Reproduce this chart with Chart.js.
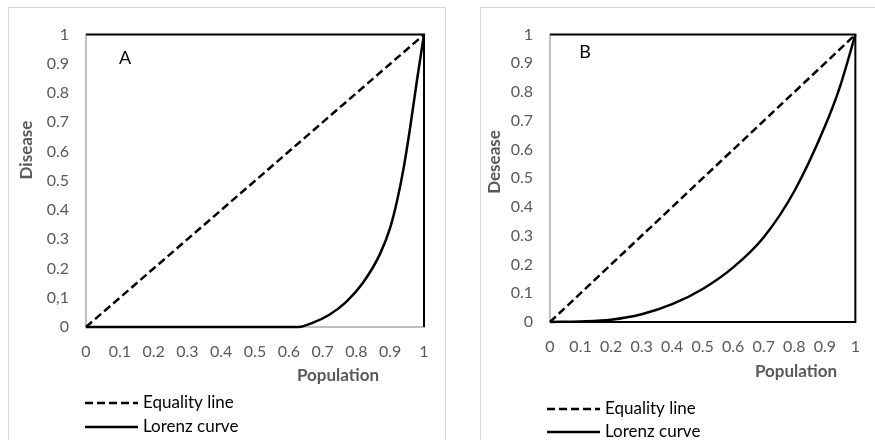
<!DOCTYPE html>
<html>
<head>
<meta charset="utf-8">
<script src="https://cdn.jsdelivr.net/npm/chart.js@4.4.1/dist/chart.umd.min.js"></script>
<style>
  body { margin: 0; background: #fff; width: 875px; height: 440px; overflow: hidden; position: relative; }
  .panel { position: absolute; border: 1px solid #d9d9d9; border-bottom: none; background: #fff; }
  #panelA { left: 8px; top: 7px; width: 436px; height: 440px; }
  #panelB { left: 480px; top: 7px; width: 400px; height: 440px; }
  canvas { position: absolute; left: 0; top: 0; }
</style>
</head>
<body>
<div class="panel" id="panelA"><canvas id="chartA"></canvas></div>
<div class="panel" id="panelB"><canvas id="chartB"></canvas></div>
<script>
// tick labels (A has "0,1" as in the original)
const xTickLabels = ['0', '0.1', '0.2', '0.3', '0.4', '0.5', '0.6', '0.7', '0.8', '0.9', '1'];
const yTickLabelsA = ['0', '0,1', '0.2', '0.3', '0.4', '0.5', '0.6', '0.7', '0.8', '0.9', '1'];
const yTickLabelsB = ['0', '0.1', '0.2', '0.3', '0.4', '0.5', '0.6', '0.7', '0.8', '0.9', '1'];

const seriesNames = ['Equality line', 'Lorenz curve'];

// equality line
const equalX = [0, 1];
const equalY = [0, 1];

// Lorenz curve, panel A
const lorenzAX = [0, 0.1, 0.2, 0.3, 0.4, 0.5, 0.6, 0.63, 0.67, 0.72, 0.77, 0.82, 0.87, 0.9, 0.92, 0.94, 0.96, 0.98, 1];
const lorenzAY = [0, 0, 0, 0, 0, 0, 0, 0, 0.014, 0.042, 0.086, 0.152, 0.25, 0.34, 0.43, 0.545, 0.69, 0.85, 1];

// Lorenz curve, panel B
const lorenzBX = [0, 0.1, 0.2, 0.3, 0.4, 0.5, 0.6, 0.7, 0.8, 0.9, 0.95, 1];
const lorenzBY = [0, 0.002, 0.008, 0.027, 0.062, 0.115, 0.19, 0.295, 0.455, 0.68, 0.82, 1];

// frame lines (top/right, and bottom on B)
const frameAX = [0, 1, 1];
const frameAY = [1, 1, 0];
const frameBX = [0, 1, 1, 0];
const frameBY = [1, 1, 0, 0];

function pts(xs, ys) {
  return xs.map((x, i) => ({ x: x, y: ys[i] }));
}

const FONT = 'Lato, "Open Sans", sans-serif';

// draws the panel letter, axis titles and the two-row legend
const decor = {
  id: 'decor',
  afterDraw(chart, args, o) {
    const ctx = chart.ctx;
    ctx.save();
    ctx.fillStyle = '#000';
    ctx.font = '18px ' + FONT;
    ctx.textAlign = 'center';
    ctx.textBaseline = 'middle';
    ctx.fillText(o.letter, o.letterX, o.letterY);

    ctx.fillStyle = '#595959';
    ctx.font = 'bold 17px ' + FONT;
    ctx.fillText(o.xTitle, o.xTitleX, o.xTitleY);
    ctx.save();
    ctx.translate(o.yTitleX, o.yTitleY);
    ctx.rotate(-Math.PI / 2);
    ctx.fillText(o.yTitle, 0, 0);
    ctx.restore();

    ctx.font = '17px ' + FONT;
    ctx.textAlign = 'left';
    ctx.fillStyle = '#000';
    chart.data.datasets.slice(0, 2).forEach((ds, i) => {
      const y = o.legY[i];
      ctx.beginPath();
      ctx.strokeStyle = '#000';
      ctx.lineWidth = 2.5;
      ctx.setLineDash(ds.borderDash || []);
      ctx.moveTo(o.legX, y);
      ctx.lineTo(o.legX + 53, y);
      ctx.stroke();
      ctx.setLineDash([]);
      ctx.fillText(ds.label, o.legX + 58, y);
    });
    ctx.restore();
  }
};

function makeChart(id, w, h, lorenz, frame, yLabels, pad, yW, xH, deco) {
  const el = document.getElementById(id);
  el.style.width = w + 'px';
  el.style.height = h + 'px';
  return new Chart(el, {
    type: 'scatter',
    data: {
      datasets: [
        { label: seriesNames[0], data: pts(equalX, equalY), showLine: true, borderColor: '#000',
          borderWidth: 2.5, borderDash: [8, 4], pointRadius: 0, clip: false },
        { label: seriesNames[1], data: lorenz, showLine: true, borderColor: '#000',
          borderWidth: 2.5, pointRadius: 0, cubicInterpolationMode: 'monotone', clip: false },
        { label: 'frame', data: frame, showLine: true, borderColor: '#000',
          borderWidth: 2, pointRadius: 0, clip: false }
      ]
    },
    options: {
      responsive: false,
      animation: false,
      layout: { padding: pad },
      plugins: {
        legend: { display: false },
        tooltip: { enabled: false },
        decor: deco
      },
      scales: {
        x: {
          type: 'linear', min: 0, max: 1,
          grid: { display: false, drawTicks: false },
          border: { display: true, color: '#bfbfbf', width: 2 },
          ticks: { stepSize: 0.1, autoSkip: false, maxRotation: 0, padding: 15,
                   color: '#595959', font: { family: FONT, size: 16 },
                   callback: v => xTickLabels[Math.round(v * 10)] },
          afterFit: s => { s.height = xH; }
        },
        y: {
          type: 'linear', min: 0, max: 1,
          grid: { display: false, drawTicks: false },
          border: { display: true, color: '#bfbfbf', width: 2 },
          ticks: { stepSize: 0.1, autoSkip: false, padding: 17,
                   color: '#595959', font: { family: FONT, size: 16 },
                   callback: v => yLabels[Math.round(v * 10)] },
          afterFit: s => { s.width = yW; }
        }
      }
    },
    plugins: [decor]
  });
}

makeChart('chartA', 436, 432, pts(lorenzAX, lorenzAY), pts(frameAX, frameAY), yTickLabelsA,
  { left: 0, top: 15, right: 21, bottom: 0 }, 77, 113,
  { letter: 'A', letterX: 116, letterY: 50,
    xTitle: 'Population', xTitleX: 329, xTitleY: 368,
    yTitle: 'Disease', yTitleX: 18, yTitleY: 142,
    legX: 76, legY: [395, 419] });

makeChart('chartB', 394, 432, pts(lorenzBX, lorenzBY), pts(frameBX, frameBY), yTickLabelsB,
  { left: 0, top: 11, right: 7, bottom: 0 }, 69, 118,
  { letter: 'B', letterX: 104, letterY: 44,
    xTitle: 'Population', xTitleX: 315, xTitleY: 364,
    yTitle: 'Desease', yTitleX: 14, yTitleY: 154,
    legX: 66, legY: [401, 424] });
</script>
</body>
</html>
